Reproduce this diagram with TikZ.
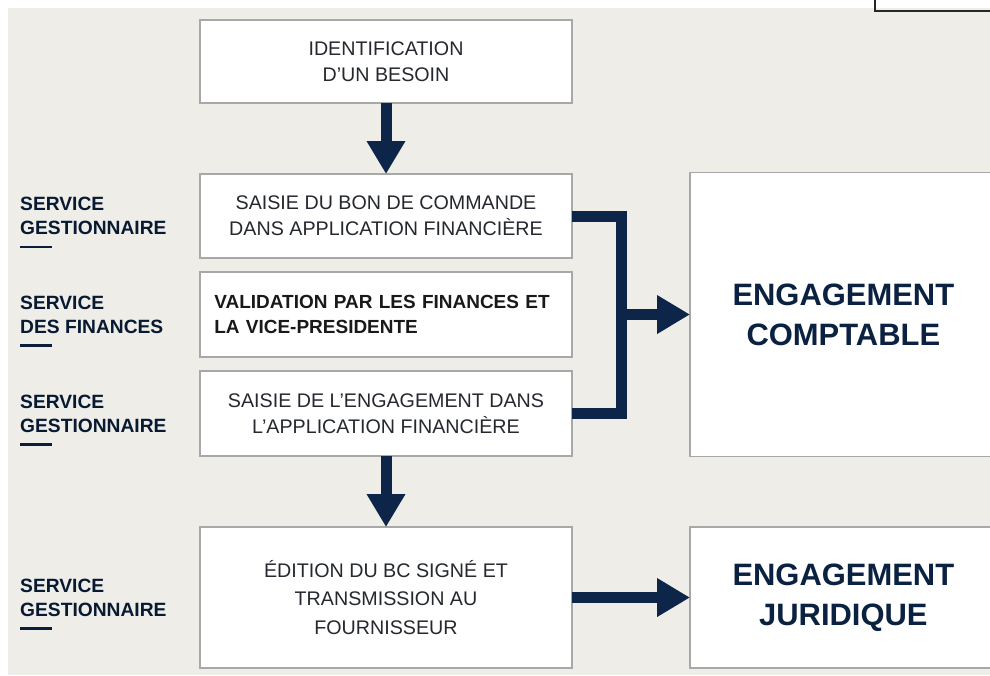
\documentclass[tikz,border=0pt]{standalone}
\usepackage{fontspec}
\setmainfont{Liberation Sans}
\usetikzlibrary{positioning, arrows.meta}
\definecolor{fond}{HTML}{EEEDE8}
\definecolor{marine}{HTML}{0C2548}
\definecolor{encre}{HTML}{25282E}
\definecolor{bord}{HTML}{A8A8A8}
\tikzset{
x=0.03cm, y=-0.03cm, % one unit is one pixel of the page
etape/.style={draw=bord, line width=1.2pt, fill=white, text=encre, minimum width=11.16cm,
  align=center, inner sep=0pt, outer sep=0pt, font=\fontsize{16.8}{22.5}\selectfont}, % boxes of the main column
bilan/.style={etape, minimum width=9.2cm, text=marine!90!black,
  font=\fontsize{26.4}{34}\selectfont\bfseries}, % boxes on the right
service/.style={anchor=west, align=left, inner sep=0pt, text=marine!70!black,
  font=\fontsize{16.4}{20.5}\selectfont\bfseries}, % labels on the left
trait/.style={draw=marine!80!black, line width=2.4pt}, % short rule under a label
flow/.style={draw=marine, line width=9.4pt, -{Triangle[length=28pt, width=31pt]}},
bracket/.style={draw=marine, line width=9.4pt, line join=miter},
}

\begin{document}
\begin{tikzpicture}
    \clip (0,0) rectangle (990,675);
    \useasboundingbox (0,0) rectangle (990,675);
    \fill[fond] (8,8) rectangle (990,675);
    \draw[line width=1.6pt, draw=black!85] (875,-10) rectangle (1000,11);

    \node[etape, minimum height=2.49cm] (besoin) at (386,61.5) {IDENTIFICATION\\D’UN BESOIN};
    \node[etape, minimum height=2.52cm, below=2.13cm of besoin] (saisie) {SAISIE DU BON DE COMMANDE\\DANS APPLICATION FINANCIÈRE};
    \node[etape, minimum height=2.55cm, below=0.42cm of saisie, align=left, text width=10.3cm, text=black!90,
          font=\fontsize{16.2}{22}\selectfont\bfseries] (valid) {VALIDATION PAR LES FINANCES ET\\LA VICE-PRESIDENTE};
    \node[etape, minimum height=2.55cm, below=0.42cm of valid] (engag) {SAISIE DE L’ENGAGEMENT DANS\\L’APPLICATION FINANCIÈRE};
    \node[etape, minimum height=4.23cm, below=2.13cm of engag,
          font=\fontsize{16.8}{24.5}\selectfont] (edition) {ÉDITION DU BC SIGNÉ ET\\TRANSMISSION AU\\FOURNISSEUR};
    \node[bilan, minimum height=8.52cm, right=3.54cm of valid] (compta) {ENGAGEMENT\\COMPTABLE};
    \node[bilan, minimum height=4.23cm, right=3.54cm of edition] (jurid) {ENGAGEMENT\\JURIDIQUE};

    \coordinate (marge) at (20,0);
    \node[service] (gest1) at (marge |- saisie) {SERVICE\\GESTIONNAIRE};
    \node[service] (fin) at (marge |- valid) {SERVICE\\DES FINANCES};
    \node[service] (gest2) at (marge |- engag) {SERVICE\\GESTIONNAIRE};
    \node[service] (gest3) at (marge |- edition) {SERVICE\\GESTIONNAIRE};
    \foreach \n in {gest1, fin, gest2, gest3}
        \draw[trait] ([yshift=-0.36cm]\n.south west) -- ++(0.96cm,0);

    \coordinate[right=1.47cm of valid] (jn);
    \draw[bracket] (saisie.east) -| (jn) |- (engag.east);
    \draw[flow] (jn) -- (jn -| compta.west);
    \draw[flow] (besoin) -- (saisie);
    \draw[flow] (engag) -- (edition);
    \draw[flow] (edition) -- (jurid);

\end{tikzpicture}
\end{document}
